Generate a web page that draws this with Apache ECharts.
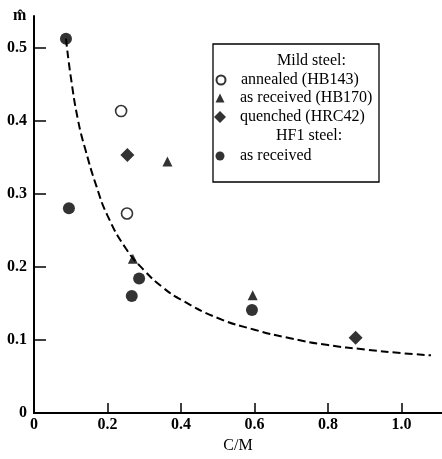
<!DOCTYPE html>
<html>
<head>
<meta charset="utf-8">
<title>m vs C/M</title>
<script src="https://cdn.jsdelivr.net/npm/echarts@6/dist/echarts.min.js"></script>
<style>
    html, body { margin: 0; padding: 0; background: #fff; }
    #chart { width: 442px; height: 459px; }
</style>
</head>
<body>
<div id="chart"></div>
<script>
// 轴刻度
let xTicks = [0, 0.2, 0.4, 0.6, 0.8, 1.0];
let yTicks = [0, 0.1, 0.2, 0.3, 0.4, 0.5];

// Mild steel: annealed (HB143) 空心圆
let annealedX = [0.237, 0.253];
let annealedY = [0.413, 0.273];
// Mild steel: as received (HB170) 三角
let receivedX = [0.363, 0.269, 0.595];
let receivedY = [0.344, 0.211, 0.161];
// Mild steel: quenched (HRC42) 菱形
let quenchedX = [0.254, 0.875];
let quenchedY = [0.353, 0.103];
// HF1 steel: as received 实心圆
let hf1X = [0.087, 0.095, 0.286, 0.266, 0.593];
let hf1Y = [0.512, 0.280, 0.184, 0.160, 0.141];

// 虚线拟合曲线
let curveX = [0.087, 0.10, 0.12, 0.14, 0.17, 0.20, 0.25, 0.30, 0.35, 0.40, 0.50, 0.60, 0.70, 0.80, 0.90, 1.00, 1.08];
let curveY = [0.512, 0.46, 0.40, 0.36, 0.31, 0.27, 0.225, 0.195, 0.172, 0.155, 0.13, 0.114, 0.102, 0.093, 0.087, 0.082, 0.079];

// 图例
let legendNames = ['annealed (HB143)', 'as received (HB170)', 'quenched (HRC42)', 'as received'];
let legendTops = [71, 89, 108, 147];
let legendSizes = [9, 9, 12, 9];

let serif = '"Liberation Serif", "DejaVu Serif", serif';

function pairs(xs, ys) {
    return xs.map(function (x, i) { return [x, ys[i]]; });
}

// 刻度标签：只显示刻度数组里的值
function tickLabel(ticks) {
    return function (v) {
        let hit = ticks.some(function (t) { return Math.abs(t - v) < 1e-6; });
        if (!hit) return '';
        return v === 0 ? '0' : v.toFixed(1);
    };
}

let myChart = echarts.init(document.getElementById('chart'));

let legends = legendNames.map(function (name, i) {
    let size = legendSizes[i];
    let left = 220 - size / 2;
    return {
        data: [name],
        left: left,
        top: legendTops[i],
        padding: 0,
        z: 20,
        itemWidth: size,
        itemHeight: size,
        selectedMode: false,
        textStyle: {
            fontFamily: serif,
            fontSize: 16,
            color: '#000',
            lineHeight: 18,
            padding: [0, 0, 0, 240 - (left + size + 5)]
        }
    };
});

let option = {
    animation: false,
    backgroundColor: '#fff',
    grid: {
        left: 34,
        right: 0,
        top: 16,
        bottom: 39
    },
    xAxis: [{
        type: 'value',
        min: 0,
        max: 1.11,
        interval: 0.2,
        name: 'C/M',
        nameLocation: 'middle',
        nameGap: 24,
        nameTextStyle: { fontFamily: serif, fontSize: 16, color: '#000' },
        axisLine: { show: true, onZero: false, lineStyle: { color: '#000', width: 2 } },
        axisTick: { show: true, length: -10, lineStyle: { color: '#000', width: 1.5 } },
        axisLabel: {
            fontFamily: serif,
            fontSize: 16,
            fontWeight: 'bold',
            color: '#000',
            margin: 4,
            showMaxLabel: false,
            formatter: tickLabel(xTicks)
        },
        splitLine: { show: false }
    }, {
        // 顶部边框线
        type: 'value',
        position: 'top',
        min: 0,
        max: 1.11,
        axisLine: { show: true, lineStyle: { color: '#000', width: 2 } },
        axisTick: { show: false },
        axisLabel: { show: false },
        splitLine: { show: false }
    }],
    yAxis: {
        type: 'value',
        min: 0,
        max: 0.543,
        interval: 0.1,
        axisLine: { show: true, onZero: false, lineStyle: { color: '#000', width: 2 } },
        axisTick: { show: true, length: -12, lineStyle: { color: '#000', width: 1.5 } },
        axisLabel: {
            fontFamily: serif,
            fontSize: 16,
            fontWeight: 'bold',
            color: '#000',
            margin: 7,
            showMaxLabel: false,
            formatter: tickLabel(yTicks)
        },
        splitLine: { show: false }
    },
    legend: legends,
    graphic: [
        {
            type: 'rect',
            shape: { x: 213, y: 44, width: 166, height: 138 },
            style: { fill: '#fff', stroke: '#000', lineWidth: 1.3 },
            z: 1
        },
        {
            type: 'text',
            left: 277,
            top: 53,
            style: { text: 'Mild steel:', fontFamily: serif, fontSize: 16, fill: '#000' },
            z: 20
        },
        {
            type: 'text',
            left: 276,
            top: 128,
            style: { text: 'HF1 steel:', fontFamily: serif, fontSize: 16, fill: '#000' },
            z: 20
        },
        {
            type: 'text',
            left: 13,
            top: 8,
            style: { text: 'm\u0302', fontFamily: serif, fontSize: 16, fontWeight: 'bold', fill: '#000' },
            z: 20
        }
    ],
    series: [
        {
            name: 'curve',
            type: 'line',
            smooth: true,
            showSymbol: false,
            silent: true,
            lineStyle: { color: '#000', width: 2, type: [8, 4] },
            data: pairs(curveX, curveY),
            z: 2
        },
        {
            name: legendNames[0],
            type: 'scatter',
            symbol: 'circle',
            symbolSize: 11,
            itemStyle: { color: '#fff', borderColor: '#000', borderWidth: 1.6 },
            data: pairs(annealedX, annealedY),
            z: 3
        },
        {
            name: legendNames[1],
            type: 'scatter',
            symbol: 'triangle',
            symbolSize: 10,
            itemStyle: { color: '#000' },
            data: pairs(receivedX, receivedY),
            z: 3
        },
        {
            name: legendNames[2],
            type: 'scatter',
            symbol: 'diamond',
            symbolSize: 14,
            itemStyle: { color: '#000' },
            data: pairs(quenchedX, quenchedY),
            z: 3
        },
        {
            name: legendNames[3],
            type: 'scatter',
            symbol: 'circle',
            symbolSize: 12,
            itemStyle: { color: '#000' },
            data: pairs(hf1X, hf1Y),
            z: 3
        }
    ]
};

myChart.setOption(option);
</script>
</body>
</html>
